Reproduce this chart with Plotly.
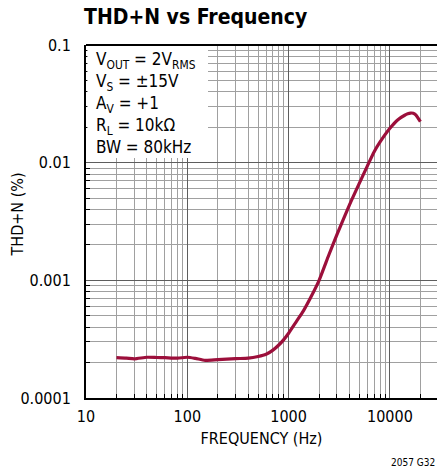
import plotly.graph_objects as go

# THD+N vs frequency
freq_hz = [20, 25, 30, 40, 50, 60, 80, 100, 120, 150, 200, 300, 400, 500, 600,
           700, 800, 900, 1000, 1200, 1400, 1700, 2000, 2500, 3000, 4000, 5000,
           6000, 7000, 8000, 10000, 12000, 14000, 15000, 16000, 17000, 18000, 20000]
thd_pct = [0.000220, 0.000218, 0.000215, 0.000222, 0.000221, 0.000220, 0.000218,
           0.000222, 0.000217, 0.000209, 0.000212, 0.000216, 0.000218, 0.000225,
           0.000235, 0.000255, 0.000282, 0.000315, 0.000355, 0.00045, 0.00055,
           0.00075, 0.001, 0.00165, 0.00245, 0.0044, 0.0067, 0.0094, 0.0124,
           0.0150, 0.0196, 0.0232, 0.0253, 0.0260, 0.0264, 0.0263, 0.0255, 0.0223]

x_major = [10, 100, 1000, 10000]
x_major_text = ["10", "100", "1000", "10000"]
y_major = [0.0001, 0.001, 0.01, 0.1]
y_major_text = ["0.0001", "0.001", "0.01", "0.1"]

conditions = ["V<sub>OUT</sub> = 2V<sub>RMS</sub>", "V<sub>S</sub> = ±15V",
              "A<sub>V</sub> = +1", "R<sub>L</sub> = 10kΩ", "BW = 80kHz"]

x_minor = [m * d for d in (10, 100, 1000, 10000) for m in range(2, 10)]
y_minor = [m * d for d in (0.0001, 0.001, 0.01) for m in range(2, 10)]

font_main = "DejaVu Sans Condensed, Liberation Sans Narrow, Arial Narrow, sans-serif"
major_grid = "#5e5e5e"
minor_grid = "#a0a0a0"

fig = go.Figure()
fig.add_trace(go.Scatter(
    x=freq_hz, y=thd_pct, mode="lines",
    line=dict(color="#9c0f3b", width=3.2, shape="spline", smoothing=0.6),
    showlegend=False, hoverinfo="skip"))

fig.update_layout(
    width=437, height=470,
    margin=dict(l=86, r=0, t=45, b=72, autoexpand=False),
    paper_bgcolor="white", plot_bgcolor="white",
    font=dict(family=font_main, size=15, color="black"),
    title=dict(text="<b>THD+N vs Frequency</b>", x=84 / 437, xanchor="left",
               y=1 - 17 / 470, yanchor="middle",
               font=dict(family=font_main, size=21, color="black")),
    showlegend=False,
)

fig.update_xaxes(
    type="log", range=[1, 4.465], automargin=False,
    tickvals=x_major, ticktext=x_major_text,
    showgrid=True, gridcolor=major_grid, gridwidth=1.3,
    minor=dict(tickvals=x_minor, showgrid=True, gridcolor=minor_grid, gridwidth=1.3,
               ticks="inside", ticklen=4, tickcolor="black"),
    ticks="", showline=True, linecolor="black", linewidth=2,
    zeroline=False, ticklabelstandoff=3,
    tickfont=dict(size=16),
    title=dict(text="FREQUENCY (Hz)", font=dict(size=16), standoff=8),
)
fig.update_yaxes(
    type="log", range=[-4, -1], automargin=False,
    tickvals=y_major, ticktext=y_major_text,
    showgrid=True, gridcolor=major_grid, gridwidth=1.3,
    minor=dict(tickvals=y_minor, showgrid=True, gridcolor=minor_grid, gridwidth=1.3,
               ticks="inside", ticklen=4, tickcolor="black"),
    ticks="", showline=True, linecolor="black", linewidth=2,
    zeroline=False, ticklabelstandoff=10,
    tickfont=dict(size=16),
)

# y axis title as an annotation so it can sit where the reference has it
fig.add_annotation(
    xref="paper", yref="paper", x=-(86 - 17) / 351, y=0.52, xanchor="center", yanchor="middle",
    text="THD+N (%)", textangle=-90, showarrow=False,
    font=dict(family=font_main, size=16, color="black"),
)

# top border
fig.add_shape(type="line", xref="paper", yref="paper", x0=0, x1=1, y0=1, y1=1,
              line=dict(color="black", width=2), layer="above")

# white box behind the conditions text
fig.add_shape(type="rect", xref="paper", yref="paper",
              x0=0.004, x1=122 / 351, y0=1 - 113 / 353, y1=0.997,
              fillcolor="white", line=dict(width=0), layer="above")

fig.add_annotation(
    xref="paper", yref="paper", x=8 / 351, y=0.995, xanchor="left", yanchor="top",
    text="<br>".join(conditions), align="left", showarrow=False,
    font=dict(family=font_main, size=17, color="black"),
)

fig.add_annotation(
    xref="paper", yref="paper", x=1, y=-(462 - 398) / 353, xanchor="right", yanchor="middle",
    text="2057 G32", showarrow=False,
    font=dict(family=font_main, size=10, color="black"),
)

# drop the default page margin so the figure sits at the window's corner
fig.write_html("out.html", config={"displayModeBar": False},
               post_script="document.body.style.margin='0';")
